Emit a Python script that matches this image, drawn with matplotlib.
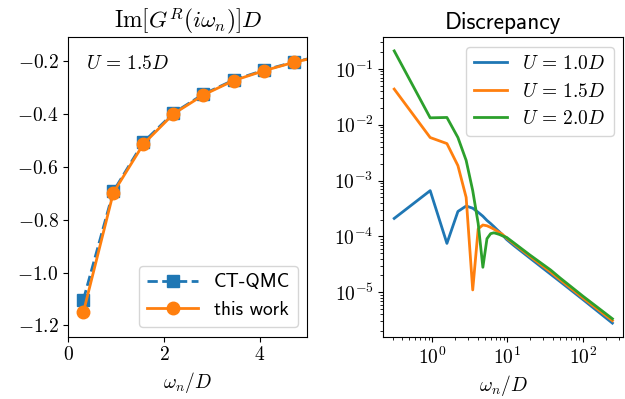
import math
import matplotlib
matplotlib.use('Agg')
import matplotlib.pyplot as plt
from matplotlib.ticker import FuncFormatter, FixedLocator

# ---- data: left panel ----
omega_left = [0.314, 0.942, 1.571, 2.199, 2.827, 3.456, 4.084, 4.712, 5.341]
ctqmc = [-1.104, -0.693, -0.507, -0.397, -0.325, -0.272, -0.235, -0.204, -0.178]
this_work = [-1.151, -0.698, -0.514, -0.400, -0.328, -0.274, -0.237, -0.205, -0.179]

# ---- data: right panel ----
omega_right = [0.314, 0.942, 1.571, 2.199, 2.827, 3.456, 4.084, 4.712, 5.341,
               5.969, 6.597, 7.226, 7.854, 8.482, 9.739, 12.252, 19.792,
               37.385, 49.951, 100.217, 246.615]
disc_u10 = [2.1e-4, 6.6e-4, 7.5e-5, 2.8e-4, 3.5e-4, 3.2e-4, 2.7e-4, 2.3e-4, 1.93e-4,
            1.7e-4, 1.5e-4, 1.33e-4, 1.2e-4, 1.08e-4, 8.8e-5, 6.8e-5, 4.1e-5,
            2.1e-5, 1.55e-5, 7.4e-6, 2.8e-6]
disc_u15 = [4.35e-2, 5.9e-3, 4.6e-3, 1.85e-3, 5.0e-4, 1.1e-5, 1.37e-4, 1.6e-4, 1.55e-4,
            1.45e-4, 1.35e-4, 1.25e-4, 1.17e-4, 1.1e-4, 9.3e-5, 7.3e-5, 4.4e-5,
            2.3e-5, 1.67e-5, 7.9e-6, 3.1e-6]
disc_u20 = [2.1e-1, 1.33e-2, 1.35e-2, 5.9e-3, 2.3e-3, 6.6e-4, 1.7e-4, 2.8e-5, 9.1e-5,
            1.12e-4, 1.16e-4, 1.12e-4, 1.08e-4, 1.03e-4, 9.6e-5, 7.6e-5, 4.65e-5,
            2.5e-5, 1.8e-5, 8.5e-6, 3.35e-6]
right_labels = [r'$U\,=\,1.0D$', r'$U\,=\,1.5D$', r'$U\,=\,2.0D$']

plt.rcParams['mathtext.fontset'] = 'cm'
plt.rcParams['font.family'] = ['cmss10', 'DejaVu Sans']
plt.rcParams['font.size'] = 14
plt.rcParams['axes.unicode_minus'] = False

fig = plt.figure(figsize=(6.25, 3.99), dpi=100)
ax1 = fig.add_axes([0.1093, 0.1561, 0.3824, 0.7504])
ax2 = fig.add_axes([0.6133, 0.1561, 0.3840, 0.7504])

# left panel
ax1.plot(omega_left, ctqmc, '--s', color='C0', lw=2, ms=9, label='CT-QMC')
ax1.plot(omega_left, this_work, '-o', color='C1', lw=2, ms=9, label='this work')
ax1.set_xlim(0, 5)
ax1.set_ylim(-1.243, -0.110)
ax1.xaxis.set_major_locator(FixedLocator([0, 2, 4]))
ax1.yaxis.set_major_locator(FixedLocator([-1.2, -1.0, -0.8, -0.6, -0.4, -0.2]))
ax1.xaxis.set_major_formatter(FuncFormatter(lambda v, p: r'$%g$' % v))
ax1.yaxis.set_major_formatter(FuncFormatter(lambda v, p: r'$%.1f$' % v))
ax1.set_xlabel(r'$\omega_n/D$')
ax1.set_title(r'$\mathrm{Im}[G^R(i\omega_n)]D$')
ax1.text(0.075, 0.91, r'$U\,=\,1.5D$', transform=ax1.transAxes, ha='left', va='center')
ax1.legend(loc='lower right', handlelength=2.62)

# right panel
for vals, lab, c in zip([disc_u10, disc_u15, disc_u20], right_labels, ['C0', 'C1', 'C2']):
    ax2.plot(omega_right, vals, '-', color=c, lw=2, label=lab)
ax2.set_xscale('log')
ax2.set_yscale('log')
logfmt = FuncFormatter(lambda v, p: r'$10^{%d}$' % round(math.log10(v)))
ax2.xaxis.set_major_formatter(logfmt)
ax2.yaxis.set_major_formatter(logfmt)
ax2.set_xlabel(r'$\omega_n/D$')
ax2.set_title('Discrepancy')
ax2.legend(loc='upper right', handlelength=1.71)

fig.savefig('out.png', dpi=100)
